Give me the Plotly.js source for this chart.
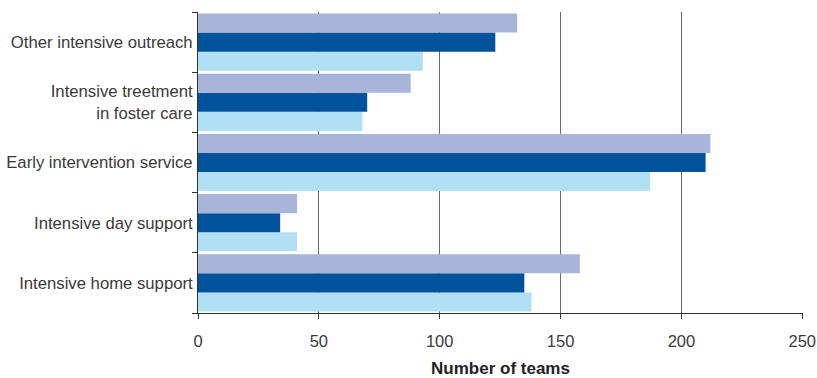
<!DOCTYPE html>
<html>
<head>
<meta charset="utf-8">
<script src="https://cdn.plot.ly/plotly-3.0.1.min.js"></script>
<style>html,body{margin:0;padding:0;background:#fff;}#chart{width:817px;height:378px;}</style>
</head>
<body>
<div id="chart"></div>
<script>
// Categories listed bottom to top
const categories = [
  "Intensive home support",
  "Intensive day support",
  "Early intervention service",
  "Intensive treetment<br>in foster care",
  "Other intensive outreach"
];
// Three series (top bar = lavender, middle = dark blue, bottom = light blue)
const seriesLavender = [158, 41, 212, 88, 132];
const seriesDark     = [135, 34, 210, 70, 123];
const seriesLight    = [138, 41, 187, 68, 93];
const xTicks = [0, 50, 100, 150, 200, 250];

const traces = [
  {y: categories, x: seriesLight, type: 'bar', orientation: 'h', marker: {color: '#b0e0f2'}, name: 'Series 3'},
  {y: categories, x: seriesDark, type: 'bar', orientation: 'h', marker: {color: '#00529b'}, name: 'Series 2'},
  {y: categories, x: seriesLavender, type: 'bar', orientation: 'h', marker: {color: '#a8b5d8'}, name: 'Series 1'}
];

const layout = {
  width: 817, height: 378,
  margin: {l: 198, r: 14, t: 12, b: 65},
  barmode: 'group',
  bargap: 0.05,
  bargroupgap: 0,
  showlegend: false,
  paper_bgcolor: '#ffffff',
  plot_bgcolor: '#ffffff',
  font: {family: 'Liberation Sans, Arial, sans-serif', size: 16, color: '#3a3a3a'},
  xaxis: {
    range: [0, 250.3],
    tickvals: xTicks,
    ticktext: xTicks.map(String),
    showgrid: true,
    gridcolor: '#6a6a6a',
    gridwidth: 1,
    zeroline: false,
    showline: true,
    linecolor: '#333333',
    linewidth: 1,
    ticks: 'outside',
    ticklen: 5,
    tickcolor: '#333333',
    tickfont: {size: 16.5, color: '#3a3a3a'},
    ticklabelstandoff: 8,
    title: {text: '<b>Number of teams</b>', font: {size: 17, color: '#222222'}, standoff: 13},
    fixedrange: true
  },
  yaxis: {
    type: 'category',
    showline: true,
    linecolor: '#333333',
    linewidth: 1,
    ticks: 'outside',
    tickson: 'boundaries',
    ticklen: 5,
    tickcolor: '#333333',
    showgrid: false,
    tickfont: {size: 16.7, color: '#3a3a3a'},
    ticklabelstandoff: 1,
    fixedrange: true
  }
};

Plotly.newPlot('chart', traces, layout, {displayModeBar: false, staticPlot: true});
</script>
</body>
</html>
